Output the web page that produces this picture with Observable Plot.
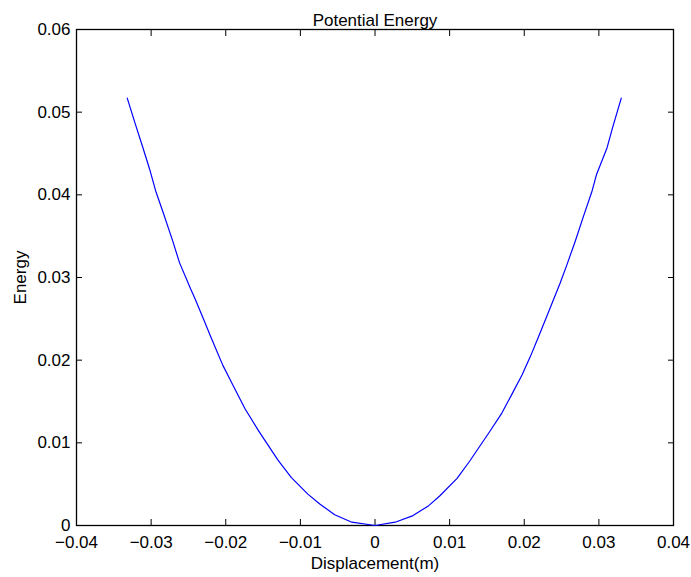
<!DOCTYPE html>
<html>
<head>
<meta charset="utf-8">
<script src="https://cdn.jsdelivr.net/npm/d3@7"></script>
<script src="https://cdn.jsdelivr.net/npm/@observablehq/plot@0.6"></script>
<style>
  html, body { margin: 0; padding: 0; background: #fff; }
  #chart svg { display: block; }
</style>
</head>
<body>
<div id="chart"></div>
<script>
const titleText = "Potential Energy";
const xLabel = "Displacement(m)";
const yLabel = "Energy";

const displacement = [
  -0.0332, -0.0322, -0.0311, -0.0302, -0.0294, -0.0284, -0.0271, -0.0262,
  -0.0247, -0.0241, -0.0230, -0.0219, -0.0204, -0.0190, -0.0174, -0.0157,
  -0.0152, -0.0130, -0.0112, -0.0090, -0.0074, -0.0054, -0.0031, 0,
  0.0027, 0.0051, 0.0072, 0.0087, 0.0110, 0.0127, 0.0154, 0.0170,
  0.0183, 0.0197, 0.0208, 0.0219, 0.0232, 0.0248, 0.0257, 0.0268,
  0.0279, 0.0291, 0.0297, 0.0311, 0.0318, 0.0330
];
const energy = [
  0.0517, 0.0488, 0.0457, 0.0431, 0.0405, 0.0379, 0.0344, 0.0318,
  0.0286, 0.0274, 0.0250, 0.0226, 0.0194, 0.0169, 0.0141, 0.0116,
  0.0109, 0.0079, 0.0058, 0.0038, 0.0026, 0.0013, 0.0004, 0,
  0.0004, 0.0012, 0.0024, 0.0036, 0.0057, 0.0078, 0.0114, 0.0136,
  0.0158, 0.0182, 0.0204, 0.0228, 0.0257, 0.0293, 0.0315, 0.0343,
  0.0373, 0.0405, 0.0425, 0.0457, 0.0480, 0.0517
];

const xTicks = [-0.04, -0.03, -0.02, -0.01, 0, 0.01, 0.02, 0.03, 0.04];
const xTickLabels = ["\u22120.04", "\u22120.03", "\u22120.02", "\u22120.01", "0", "0.01", "0.02", "0.03", "0.04"];
const yTicks = [0, 0.01, 0.02, 0.03, 0.04, 0.05, 0.06];
const yTickLabels = ["0", "0.01", "0.02", "0.03", "0.04", "0.05", "0.06"];

const data = displacement.map((x, i) => ({x, e: energy[i]}));
const xFmt = d => xTickLabels[xTicks.findIndex(t => Math.abs(t - d) < 1e-9)];
const yFmt = d => yTickLabels[yTicks.findIndex(t => Math.abs(t - d) < 1e-9)];

const font = "'Liberation Sans', Arial, Helvetica, sans-serif";

const chart = Plot.plot({
  width: 691,
  height: 577,
  marginLeft: 76,
  marginRight: 18,
  marginTop: 29,
  marginBottom: 52,
  style: {fontFamily: font, fontSize: "17px", background: "#fff", color: "#000"},
  x: {domain: [-0.04, 0.04]},
  y: {domain: [0, 0.06]},
  marks: [
    // tick labels
    Plot.axisX({anchor: "bottom", ticks: xTicks, tickSize: 0, tickPadding: 10, tickFormat: xFmt, label: null, fontSize: 17}),
    Plot.axisY({anchor: "left", ticks: yTicks, tickSize: 0, tickPadding: 6, tickFormat: yFmt, label: null, fontSize: 17}),
    // inward ticks on all four sides
    Plot.axisX({anchor: "bottom", ticks: xTicks, tickSize: 6, text: null, label: null, dy: -6, stroke: "#000"}),
    Plot.axisX({anchor: "top", ticks: xTicks, tickSize: 6, text: null, label: null, dy: 6, stroke: "#000"}),
    Plot.axisY({anchor: "left", ticks: yTicks, tickSize: 6, text: null, label: null, dx: 6, stroke: "#000"}),
    Plot.axisY({anchor: "right", ticks: yTicks, tickSize: 6, text: null, label: null, dx: -6, stroke: "#000"}),
    Plot.frame({stroke: "#000", strokeWidth: 1.3}),
    Plot.line(data, {x: "x", y: "e", stroke: "#0000ff", strokeWidth: 1.2}),
    Plot.text([titleText], {frameAnchor: "top", dy: -16, fontSize: 17, fill: "#000"}),
    Plot.text([xLabel], {frameAnchor: "bottom", dy: 43, fontSize: 17, fill: "#000"}),
    Plot.text([yLabel], {frameAnchor: "left", textAnchor: "middle", dx: -56, rotate: -90, fontSize: 17, fill: "#000"})
  ]
});

document.getElementById("chart").appendChild(chart);
</script>
</body>
</html>
